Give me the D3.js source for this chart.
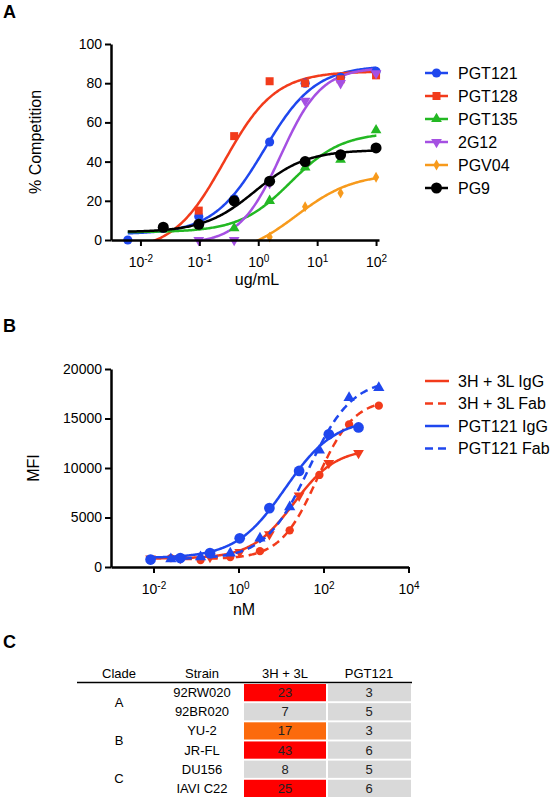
<!DOCTYPE html>
<html>
<head>
<meta charset="utf-8">
<script src="https://cdn.jsdelivr.net/npm/d3@7"></script>
<style>
    body { margin: 0; background: #fff; }
    svg { display: block; font-family: "Liberation Sans", Arial, sans-serif; }
</style>
</head>
<body>
<svg id="chart" width="555" height="800"></svg>
<script>
// ---------- panel A: competition ----------
const concA = [0.0061, 0.0244, 0.0977, 0.39, 1.56, 6.25, 25, 100];
const namesA = ["PGT121", "PGT128", "PGT135", "2G12", "PGV04", "PG9"];
const pgt121A = [0, 6, 12, 21, 50, 80, 83, 86];
const pgt128A = [null, null, 15, 53, 81, 80, 82, 84];
const pgt135A = [null, null, 8, 6, 20, 37, 41, 56];
const g2g12A = [null, null, 0, 0, 29, 71, 80, 85];
const pgv04A = [null, null, null, null, 1.5, 17, 24, 32];
const pg9A = [null, 6.5, 8, 20, 30, 40, 43.5, 47];
// fitted curves: bottom, top, logEC50, hill
const fitsA = [
    [3, 89, 0.1, 1.0],
    [-6, 86, -0.58, 1.0],
    [4, 55, 0.55, 1.0],
    [-2, 88, 0.38, 1.25],
    [-9, 34, 0.65, 0.9],
    [4, 46, -0.05, 1.0]
];
const yTicksA = [0, 20, 40, 60, 80, 100];
const xTicksA = [-2, -1, 0, 1, 2];

// ---------- panel B: binding ----------
const concIgG = [666.7, 133.3, 26.67, 5.333, 1.067, 0.2133, 0.04267, 0.008533];
const concFab = [2000, 400, 80, 16, 3.2, 0.64, 0.128, 0.0256];
const namesB = ["3H + 3L IgG", "3H + 3L Fab", "PGT121 IgG", "PGT121 Fab"];
const h3l3IgG = [11500, 10500, 7200, 3300, 1500, 1000, 900, 850];
const h3l3Fab = [16300, 14400, 9300, 3700, 1600, 1000, 700, 900];
const pgt121IgG = [14100, 13400, 9700, 5950, 2900, 1400, 900, 750];
const pgt121Fab = [18100, 17100, 11800, 6060, 2900, 1400, 1000, 800];
const fitsB = [
    [850, 12000, 1.3, 0.87],
    [800, 17000, 1.85, 1.0],
    [900, 15000, 1.1, 0.75],
    [800, 19000, 1.65, 0.85]
];
const yTicksB = [0, 5000, 10000, 15000, 20000];
const xTicksB = [-2, 0, 2, 4];

// ---------- panel C: table ----------
const clades = ["A", "B", "C"];
const strains = ["92RW020", "92BR020", "YU-2", "JR-FL", "DU156", "IAVI C22"];
const vals3H3L = [23, 7, 17, 43, 8, 25];
const valsPGT121 = [3, 5, 3, 6, 5, 6];
const tableHeaders = ["Clade", "Strain", "3H + 3L", "PGT121"];

const svg = d3.select("#chart");
const font = "\"Liberation Sans\", Arial, sans-serif";

const logistic = (f, lx) => f[0] + (f[1] - f[0]) / (1 + Math.pow(10, (f[2] - lx) * f[3]));

function powLabels(sel) {
    sel.selectAll(".tick text").each(function (d) {
        const t = d3.select(this);
        const e = Math.round(Math.log10(d));
        t.text(null);
        t.append("tspan").text("10");
        t.append("tspan").attr("dy", "-0.45em").attr("font-size", "10px").text(e);
    });
}

function styleAxis(g) {
    g.select(".domain").attr("stroke", "#000").attr("stroke-width", 2.5);
    g.selectAll(".tick line").attr("stroke", "#000").attr("stroke-width", 2);
    g.selectAll(".tick text").attr("fill", "#000").attr("font-size", "14px").attr("font-family", font);
}

function panelLetter(txt, y) {
    svg.append("text").attr("x", 3).attr("y", y).text(txt)
        .attr("font-size", "18px").attr("font-weight", "bold");
}

// ===== A =====
panelLetter("A", 18);
const xA = d3.scaleLog().domain([Math.pow(10, -2.5), Math.pow(10, 2.05)]).range([111, 379]);
const yA = d3.scaleLinear().domain([0, 100]).range([240, 44]);
const colorsA = ["#1f47ee", "#f23b1b", "#23b823", "#a550e2", "#f79a1c", "#000000"];
const symbolsA = [
    {type: d3.symbolCircle, size: 66, rot: 0},
    {type: d3.symbolSquare, size: 64, rot: 0},
    {type: d3.symbolTriangle, size: 50, rot: 0},
    {type: d3.symbolTriangle, size: 50, rot: 180},
    {type: d3.symbolDiamond, size: 34, rot: 0},
    {type: d3.symbolCircle, size: 95, rot: 0}
];
const seriesA = [pgt121A, pgt128A, pgt135A, g2g12A, pgv04A, pg9A];

svg.append("clipPath").attr("id", "clipA")
    .append("rect").attr("x", 111).attr("y", 40).attr("width", 270).attr("height", 200);

const lineA = d3.line().x(d => xA(Math.pow(10, d[0]))).y(d => yA(d[1]));
const lxStep = 0.02;

seriesA.forEach((vals, i) => {
    const lo = Math.log10(concA[0]);
    const hi = Math.log10(concA[concA.length - 1]);
    const pts = d3.range(lo, hi + lxStep / 2, lxStep).map(lx => [lx, logistic(fitsA[i], lx)]);
    svg.append("path")
        .attr("d", lineA(pts))
        .attr("fill", "none")
        .attr("stroke", colorsA[i])
        .attr("stroke-width", 2.5)
        .attr("clip-path", "url(#clipA)");
});

seriesA.forEach((vals, i) => {
    const sym = d3.symbol().type(symbolsA[i].type).size(symbolsA[i].size);
    svg.append("g").selectAll("path")
        .data(vals.map((v, j) => [concA[j], v]).filter(d => d[1] !== null))
        .enter().append("path")
        .attr("d", sym)
        .attr("fill", colorsA[i])
        .attr("transform", d => `translate(${xA(d[0])},${yA(d[1])}) rotate(${symbolsA[i].rot})`);
});

const yAxisA = svg.append("g").attr("transform", "translate(111,0)")
    .call(d3.axisLeft(yA).tickValues(yTicksA).tickSize(6).tickSizeOuter(0).tickPadding(3));
styleAxis(yAxisA);
const xAxisA = svg.append("g").attr("transform", "translate(0,240)")
    .call(d3.axisBottom(xA).tickValues(xTicksA.map(e => Math.pow(10, e))).tickSize(6).tickSizeOuter(0).tickPadding(6));
styleAxis(xAxisA);
powLabels(xAxisA);
xAxisA.selectAll(".tick text").attr("dy", "1.05em");

svg.append("text").attr("x", 257).attr("y", 285).attr("text-anchor", "middle")
    .attr("font-size", "16px").text("ug/mL");
svg.append("text").attr("transform", "translate(41,142) rotate(-90)").attr("text-anchor", "middle")
    .attr("font-size", "16px").text("% Competition");

// legend A
const legA = svg.append("g").attr("font-size", "16px");
namesA.forEach((name, i) => {
    const y = 73 + i * 23;
    legA.append("line").attr("x1", 425).attr("x2", 448).attr("y1", y).attr("y2", y)
        .attr("stroke", colorsA[i]).attr("stroke-width", 2.5);
    legA.append("path")
        .attr("d", d3.symbol().type(symbolsA[i].type).size(symbolsA[i].size))
        .attr("fill", colorsA[i])
        .attr("transform", `translate(436.5,${y}) rotate(${symbolsA[i].rot})`);
    legA.append("text").attr("x", 458).attr("y", y + 5.5).text(name);
});

// ===== B =====
panelLetter("B", 332);
const xB = d3.scaleLog().domain([1e-3, 1e4]).range([111, 408.5]);
const yB = d3.scaleLinear().domain([0, 20000]).range([567, 369]);
const colorsB = ["#f23b1b", "#f23b1b", "#1f47ee", "#1f47ee"];
const dashesB = [null, "8,5", null, "8,5"];
const seriesB = [
    {vals: h3l3IgG, conc: concIgG, sym: d3.symbolTriangle, size: 50, rot: 180},
    {vals: h3l3Fab, conc: concFab, sym: d3.symbolCircle, size: 55, rot: 0},
    {vals: pgt121IgG, conc: concIgG, sym: d3.symbolCircle, size: 90, rot: 0},
    {vals: pgt121Fab, conc: concFab, sym: d3.symbolTriangle, size: 55, rot: 0}
];

const lineB = d3.line().x(d => xB(Math.pow(10, d[0]))).y(d => yB(d[1]));

seriesB.forEach((s, i) => {
    const lo = Math.log10(d3.min(s.conc));
    const hi = Math.log10(d3.max(s.conc));
    const pts = d3.range(lo, hi + lxStep / 2, lxStep).map(lx => [lx, logistic(fitsB[i], lx)]);
    svg.append("path")
        .attr("d", lineB(pts))
        .attr("fill", "none")
        .attr("stroke", colorsB[i])
        .attr("stroke-width", 2.5)
        .attr("stroke-dasharray", dashesB[i]);

    const sym = d3.symbol().type(s.sym).size(s.size);
    svg.append("g").selectAll("path")
        .data(s.vals.map((v, j) => [s.conc[j], v]))
        .enter().append("path")
        .attr("d", sym)
        .attr("fill", colorsB[i])
        .attr("transform", d => `translate(${xB(d[0])},${yB(d[1])}) rotate(${s.rot})`);
});

const yAxisB = svg.append("g").attr("transform", "translate(111,0)")
    .call(d3.axisLeft(yB).tickValues(yTicksB).tickSize(6).tickSizeOuter(0).tickPadding(3).tickFormat(d3.format("d")));
styleAxis(yAxisB);
const xAxisB = svg.append("g").attr("transform", "translate(0,567)")
    .call(d3.axisBottom(xB).tickValues(xTicksB.map(e => Math.pow(10, e))).tickSize(6).tickSizeOuter(0).tickPadding(6));
styleAxis(xAxisB);
powLabels(xAxisB);
xAxisB.selectAll(".tick text").attr("dy", "1.05em");

svg.append("text").attr("x", 244).attr("y", 615).attr("text-anchor", "middle")
    .attr("font-size", "16px").text("nM");
svg.append("text").attr("transform", "translate(39,468) rotate(-90)").attr("text-anchor", "middle")
    .attr("font-size", "16px").text("MFI");

// legend B
const legB = svg.append("g").attr("font-size", "16px");
namesB.forEach((name, i) => {
    const y = 381 + i * 22.5;
    legB.append("line").attr("x1", 425).attr("x2", 449).attr("y1", y).attr("y2", y)
        .attr("stroke", colorsB[i]).attr("stroke-width", 2.5)
        .attr("stroke-dasharray", dashesB[i]);
    legB.append("text").attr("x", 458).attr("y", y + 5.5).text(name);
});

// ===== C =====
panelLetter("C", 648);
const colX = [119, 202, 285, 369];
const rowY = d3.scaleBand().domain(strains).range([684, 797]).paddingInner(0.1);
const cellColor = d3.scaleThreshold().domain([10, 20]).range(["#d9d9d9", "#fc6a0c", "#ff0000"]);

const table = svg.append("g").attr("font-size", "13px").attr("text-anchor", "middle");
tableHeaders.forEach((h, i) => {
    table.append("text").attr("x", colX[i]).attr("y", 678).text(h);
});
table.append("line").attr("x1", 77).attr("x2", 412).attr("y1", 682.5).attr("y2", 682.5)
    .attr("stroke", "#000").attr("stroke-width", 1.5);

const rows = table.selectAll(".row")
    .data(strains)
    .enter().append("g")
    .attr("class", "row")
    .attr("transform", d => `translate(0,${rowY(d)})`);

rows.append("rect").attr("x", 244).attr("width", 82).attr("height", rowY.bandwidth())
    .attr("fill", (d, i) => cellColor(vals3H3L[i]));
rows.append("rect").attr("x", 328).attr("width", 83).attr("height", rowY.bandwidth())
    .attr("fill", (d, i) => cellColor(valsPGT121[i]));

const midY = rowY.bandwidth() / 2 + 4.5;
rows.append("text").attr("x", colX[1]).attr("y", midY).text(d => d);
rows.append("text").attr("x", colX[2]).attr("y", midY).attr("fill", "#222").text((d, i) => vals3H3L[i]);
rows.append("text").attr("x", colX[3]).attr("y", midY).attr("fill", "#222").text((d, i) => valsPGT121[i]);

// clade label sits between its two strains
clades.forEach((c, i) => {
    const y = (rowY(strains[i * 2]) + rowY(strains[i * 2 + 1]) + rowY.bandwidth()) / 2 + 4.5;
    table.append("text").attr("x", colX[0]).attr("y", y).text(c);
});
</script>
</body>
</html>
